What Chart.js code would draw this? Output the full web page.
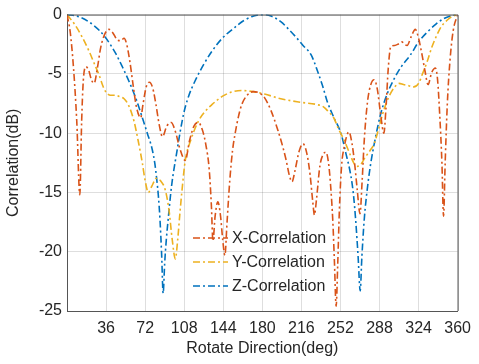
<!DOCTYPE html>
<html>
<head>
<meta charset="utf-8">
<script src="https://cdn.jsdelivr.net/npm/chart.js@4.4.0/dist/chart.umd.min.js"></script>
<style>
  html, body { margin: 0; padding: 0; background: #fff; }
  #wrap { width: 479px; height: 364px; }
</style>
</head>
<body>
<div id="wrap"><canvas id="corr" width="479" height="364"></canvas></div>
<script>
// rotation angle (deg) and correlation (dB)
var xAngles = [0, 3, 6, 9, 11.8, 13.5, 15, 17.3, 20, 22.5, 25, 28, 31, 35, 38.8, 42, 46, 49.5, 52.6, 55,
  58, 61, 64, 67.9, 70, 73, 76, 79, 82, 85, 88, 92, 96, 100, 104, 109, 113, 117, 121, 125,
  128, 131, 133, 134.5, 136.5, 139, 141.5, 143.5, 145.5, 147.5, 150, 152.5, 155, 158, 161, 166, 171.5, 177, 182, 188,
  194.5, 199, 202, 205, 207.4, 210, 214, 217.5, 221, 224, 226.5, 228, 230, 233, 236, 238.6, 241, 243, 245, 246.5,
  248, 249.5, 251, 253, 255.4, 259.8, 262.5, 265, 267.5, 270, 272, 274, 277, 280, 283, 286, 289, 292, 294, 296,
  298.4, 302, 305, 308.6, 311, 313.4, 317, 321, 324, 327.2, 330, 332.7, 336, 339.5, 341.5, 343.5, 345.5, 347, 348.5, 350.5,
  353, 356, 360];
var xCorr = [0, -1.5, -4.5, -9, -15.2, -9, -5.6, -4.4, -4.7, -5.5, -5.8, -4.5, -2.8, -1.6, -1.25, -1.5, -2.1, -2.2, -2.0, -2.5,
  -4.0, -6.0, -7.8, -8.7, -7.6, -6.1, -5.7, -6.2, -7.6, -9.3, -10.3, -9.4, -9.1, -9.9, -11.3, -12.3, -10.6, -9.4, -9.1, -9.8,
  -11.0, -13.0, -16.0, -19.1, -17.0, -15.8, -17.0, -19.0, -20.3, -17.5, -14.0, -11.5, -10.0, -8.6, -7.6, -6.8, -6.5, -6.6, -7.0, -8.1,
  -9.8, -11.2, -12.3, -13.6, -14.1, -13.2, -11.5, -10.9, -11.7, -13.5, -15.8, -16.9, -15.5, -12.8, -11.8, -11.6, -12.5, -14.5, -17.5, -21,
  -24.6, -21, -16.5, -12.8, -11.2, -9.9, -10.8, -12.5, -14.8, -16.8, -14.0, -10.5, -7.3, -5.9, -5.5, -6.3, -8.4, -10.0, -7.8, -4.6,
  -2.7, -2.6, -2.5, -2.3, -2.5, -2.6, -1.9, -1.25, -2.0, -3.4, -4.8, -5.9, -4.9, -4.5, -5.5, -8.5, -12.5, -17.0, -12.5, -7.5,
  -3.8, -1.3, 0];

var yAngles = [0, 7.6, 14, 20.4, 25, 29.6, 33, 35.7, 40, 44.9, 48, 52.6, 57, 61.8, 65.5, 69.4, 72, 75, 78, 82.5,
  86, 90.6, 94, 97, 99.8, 102, 104, 106, 109, 114, 121, 127, 133.5, 143, 153, 160.7, 171.5, 182, 197, 215.6,
  231, 236.6, 241, 245.8, 250, 255.4, 260, 264.2, 267.3, 271, 275, 279, 283, 287, 290.8, 294.5, 298.4, 302, 306, 310,
  315, 319.5, 324, 328, 331.8, 336, 341, 345, 350, 355, 360];
var yCorr = [0, -0.9, -1.9, -3.1, -4.1, -5.1, -6.0, -6.5, -6.8, -6.8, -6.9, -7.1, -7.7, -9.0, -10.6, -12.5, -14.0, -15.0, -14.5, -13.8,
  -14.0, -14.8, -16.5, -19, -20.6, -19, -16.8, -14.8, -12.3, -10.6, -9.0, -8.2, -7.6, -6.9, -6.5, -6.4, -6.5, -6.7, -7.1, -7.4,
  -7.6, -7.8, -8.2, -8.7, -9.6, -10.6, -11.6, -12.5, -12.8, -12.6, -12.0, -11.5, -10.9, -9.7, -8.4, -7.4, -6.6, -6.1, -5.8, -5.9,
  -6.0, -6.1, -5.8, -4.9, -4.0, -2.8, -1.7, -1.0, -0.5, -0.15, 0];

var zAngles = [0, 10, 20, 30, 36, 45, 51, 57, 64, 69.4, 74, 78.6, 81, 82.7, 84.3, 85.7, 87.2, 88.6, 90, 91.5,
  93.2, 96.3, 101, 107.4, 112, 118, 126, 133.5, 143, 153, 163, 172, 180, 188, 197, 206, 212, 217.5, 225, 231,
  235.5, 239.7, 246, 252.4, 257, 261.6, 264, 266, 268.2, 270.2, 271.7, 273.9, 277, 280, 284, 289, 295, 301, 308, 316.5,
  324, 331.8, 340, 347, 354, 360];
var zCorr = [0, -0.15, -0.6, -1.35, -2.0, -3.3, -4.4, -5.6, -7.2, -8.7, -10.0, -11.4, -12.6, -13.9, -15.4, -17.3, -20.2, -23.5, -21.0, -19.0,
  -17.3, -14.5, -11.7, -8.4, -6.9, -5.6, -4.2, -3.1, -2.0, -1.2, -0.5, -0.12, 0, -0.12, -0.6, -1.4, -2.0, -2.6, -3.4, -4.8,
  -6.0, -7.3, -8.7, -10.0, -11.7, -13.6, -15.2, -17.3, -20.3, -23.3, -20.5, -17.3, -14.5, -12.5, -10.5, -8.4, -6.7, -5.5, -4.4, -3.4,
  -2.3, -1.5, -0.8, -0.35, -0.1, 0];

var seriesNames = ["X-Correlation", "Y-Correlation", "Z-Correlation"];
var seriesColors = ["#D95319", "#EDB120", "#0072BD"];

function pts(a, v) {
  return a.map(function (d, i) { return { x: d, y: v[i] }; });
}

var textColor = "#262626";
var fontFamily = "'Liberation Sans', Arial, sans-serif";
var dashDot = [7, 3, 2, 3];

// legend drawn inside the axes, no frame
var innerLegend = {
  id: "innerLegend",
  afterDraw: function (chart) {
    var c = chart.ctx;
    var rows = [238, 262, 286];
    c.save();
    chart.data.datasets.forEach(function (ds, i) {
      c.strokeStyle = ds.borderColor;
      c.lineWidth = 1.6;
      c.setLineDash(dashDot);
      c.beginPath();
      c.moveTo(193, rows[i]);
      c.lineTo(228, rows[i]);
      c.stroke();
      c.setLineDash([]);
      c.fillStyle = textColor;
      c.font = "16px " + fontFamily;
      c.textBaseline = "middle";
      c.textAlign = "left";
      c.fillText(ds.label, 232, rows[i] + 1);
    });
    c.restore();
  }
};

// top and right edges of the axes box
var boxFrame = {
  id: "boxFrame",
  afterDraw: function (chart) {
    var a = chart.chartArea, c = chart.ctx;
    c.save();
    c.strokeStyle = "#555";
    c.lineWidth = 1;
    c.beginPath();
    c.moveTo(a.left, a.top + 0.5);
    c.lineTo(a.right + 0.5, a.top + 0.5);
    c.lineTo(a.right + 0.5, a.bottom);
    c.stroke();
    c.restore();
  }
};

var ctx = document.getElementById("corr");

var chart = new Chart(ctx, {
  type: "line",
  data: {
    datasets: [
      { label: seriesNames[0], data: pts(xAngles, xCorr), borderColor: seriesColors[0] },
      { label: seriesNames[1], data: pts(yAngles, yCorr), borderColor: seriesColors[1] },
      { label: seriesNames[2], data: pts(zAngles, zCorr), borderColor: seriesColors[2] }
    ]
  },
  options: {
    responsive: false,
    animation: false,
    layout: { padding: { top: 9, right: 21, left: 0, bottom: 0 } },
    elements: {
      point: { radius: 0 },
      line: { borderWidth: 1.6, borderDash: dashDot, fill: false, cubicInterpolationMode: "monotone" }
    },
    plugins: {
      legend: { display: false },
      tooltip: { enabled: false }
    },
    scales: {
      x: {
        type: "linear",
        min: 0,
        max: 360,
        afterFit: function (s) { s.height = 53; },
        ticks: {
          stepSize: 36,
          padding: 8,
          color: textColor,
          font: { family: fontFamily, size: 16 },
          maxRotation: 0,
          callback: function (v) { return v === 0 ? "" : v; }
        },
        grid: { color: "rgba(0,0,0,0.13)", drawTicks: false },
        border: { color: "#555" },
        title: {
          display: true,
          text: "Rotate Direction(deg)",
          color: textColor,
          font: { family: fontFamily, size: 16 },
          padding: { top: 0, bottom: 6 }
        }
      },
      y: {
        min: -25,
        max: 0,
        afterFit: function (s) { s.width = 67; },
        ticks: {
          stepSize: 5,
          padding: 5,
          color: textColor,
          font: { family: fontFamily, size: 16 }
        },
        grid: { color: "rgba(0,0,0,0.13)", drawTicks: false },
        border: { color: "#555" },
        title: {
          display: true,
          text: "Correlation(dB)",
          color: textColor,
          font: { family: fontFamily, size: 16 },
          padding: { top: 4, bottom: 0 }
        }
      }
    }
  },
  plugins: [innerLegend, boxFrame]
});
</script>
</body>
</html>
